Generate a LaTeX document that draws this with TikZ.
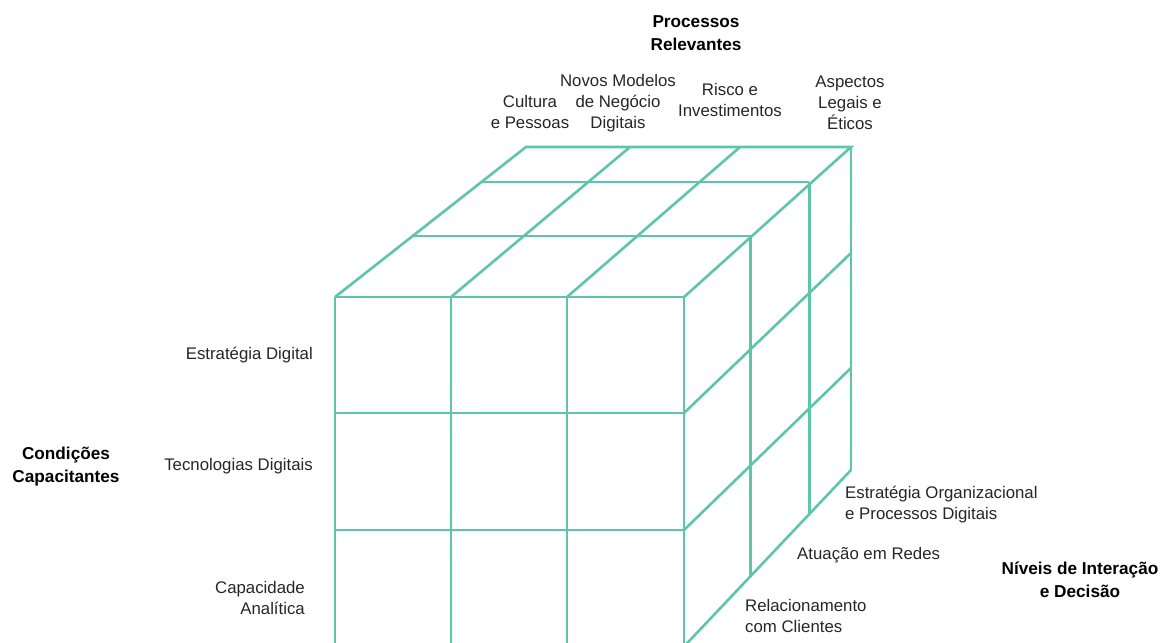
\documentclass[tikz,border=0pt]{standalone}
\usepackage{fontspec}
\setmainfont{Liberation Sans}
\definecolor{cubeline}{RGB}{94,197,172}
\begin{document}
\begin{tikzpicture}[x=1pt,y=-1pt,
  grid/.style={draw=cubeline,line width=2.6pt,line cap=butt,line join=miter},
  lbl/.style={inner sep=0pt,font=\fontsize{16.8}{21}\selectfont,text=black!85},
  head/.style={inner sep=0pt,font=\fontsize{17.2}{23}\selectfont\bfseries,text=black,align=center}]
\useasboundingbox (0,0) rectangle (1171,643);
\clip (0,0) rectangle (1171,643);

% corner and grid points of the cube
\coordinate (f00) at (335,297);   \coordinate (f30) at (684,297);
\coordinate (b00) at (526,147);   \coordinate (b30) at (851,147);
\coordinate (b10) at (630,147);   \coordinate (b20) at (740,147);
\coordinate (f10) at (451,297);   \coordinate (f20) at (567,297);

% front face
\foreach \x in {335,451,567,684} \draw[grid] (\x,297) -- (\x,650);
\foreach \y in {297,413,530} \draw[grid] (335,\y) -- (684,\y);

% top face
\draw[grid] (f00) -- (b00) -- (b30) -- (f30);
\draw[grid] (f10) -- (b10);
\draw[grid] (f20) -- (b20);
\draw[grid] (411,236) -- (750.7,236);
\draw[grid] (480,182) -- (809.3,182);

% right face
\draw[grid] (750.7,236) -- (750.7,576.5);
\draw[grid] (809.3,182) -- (809.3,514);
\draw[grid] (b30) -- (851,470);
\draw[grid] (684,413) -- (851,253);
\draw[grid] (684,530) -- (851,368);
\draw[grid] (684,646.5) -- (851,470);

% axis titles
\node[head] (proc) at (696,33) {Processos\\Relevantes};
\node[head] (cond) at (66,467) {Condições\\Capacitantes};
\node[head] (niv) at (1080,580) {Níveis de Interação\\e Decisão};

% processes along the top
\node[lbl,align=center] (p1) at (530,112) {Cultura\\e Pessoas};
\node[lbl,align=center] (p2) at (618,103) {Novos Modelos\\de Negócio\\Digitais};
\node[lbl,align=center] (p3) at (730,100) {Risco e\\Investimentos};
\node[lbl,align=center] (p4) at (850,103) {Aspectos\\Legais e\\Éticos};

% enabling conditions on the left
\node[lbl,anchor=east] (c1) at (313,355) {Estratégia Digital};
\node[lbl,anchor=east] (c2) at (313,466) {Tecnologias Digitais};
\node[lbl,align=right,anchor=east] (c3) at (305,598) {Capacidade\\Analítica};

% interaction levels along the depth
\node[lbl,align=left,anchor=west] (n1) at (845,505) {Estratégia Organizacional\\e Processos Digitais};
\node[lbl,anchor=west] (n2) at (797,555) {Atuação em Redes};
\node[lbl,align=left,anchor=west] (n3) at (745,616) {Relacionamento\\com Clientes};
\end{tikzpicture}
\end{document}
